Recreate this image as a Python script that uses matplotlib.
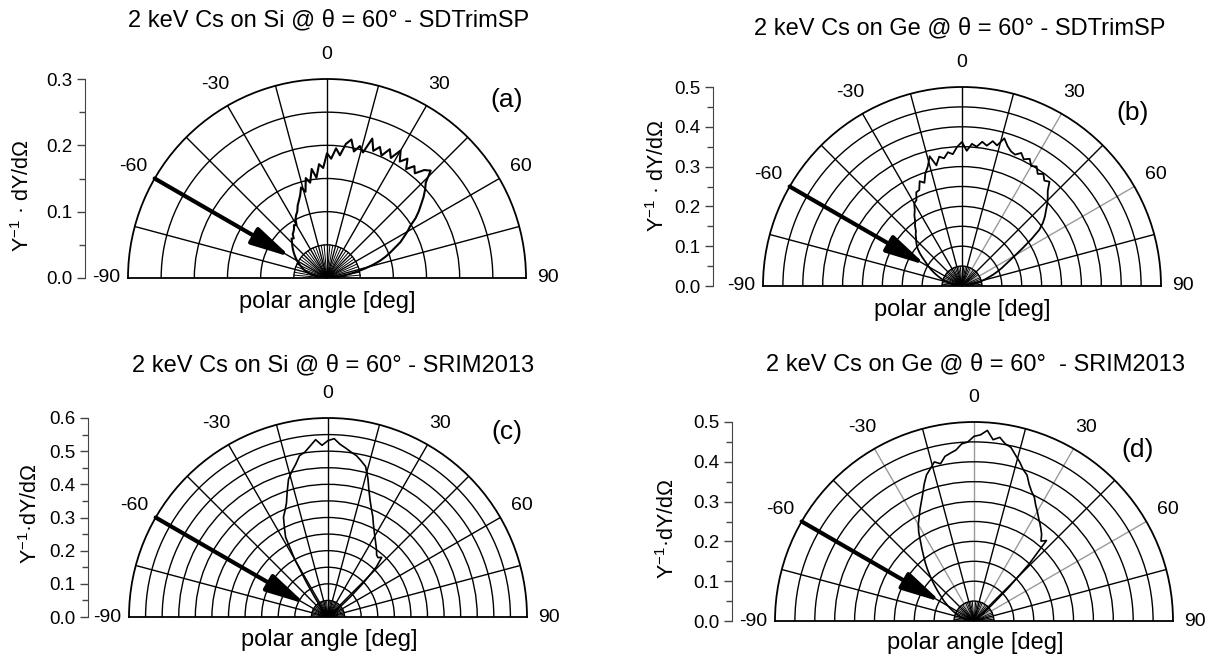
import numpy as np
import matplotlib
matplotlib.use("Agg")
import matplotlib.pyplot as plt
from matplotlib.ticker import MultipleLocator, FormatStrFormatter

plt.rcParams['font.family'] = ['Liberation Sans', 'DejaVu Sans']
plt.rcParams['mathtext.fontset'] = 'custom'
plt.rcParams['mathtext.rm'] = 'Liberation Sans'
plt.rcParams['mathtext.it'] = 'Liberation Sans:italic'

# polar angle bins [deg]
angles_deg = list(range(-90, 92, 2))

# Y^-1 dY/dOmega, one value per angle bin
r_si_sdtrim = [
    0.000, 0.003, 0.006, 0.010, 0.014, 0.018, 0.022, 0.026, 0.030, 0.034,
    0.037, 0.040, 0.043, 0.046, 0.049, 0.052, 0.055, 0.058, 0.061, 0.064,
    0.067, 0.070, 0.073, 0.076, 0.080, 0.078, 0.084, 0.086, 0.089, 0.094,
    0.092, 0.101, 0.106, 0.110, 0.118, 0.124, 0.131, 0.142, 0.134, 0.154,
    0.146, 0.166, 0.152, 0.172, 0.166, 0.188, 0.180, 0.196, 0.186, 0.204,
    0.212, 0.195, 0.205, 0.197, 0.221, 0.204, 0.213, 0.202, 0.216, 0.205,
    0.222, 0.207, 0.217, 0.203, 0.214, 0.206, 0.219, 0.225, 0.207, 0.199,
    0.190, 0.180, 0.171, 0.161, 0.148, 0.140, 0.131, 0.123, 0.112, 0.103,
    0.094, 0.084, 0.072, 0.059, 0.046, 0.034, 0.024, 0.015, 0.008, 0.003,
    0.000]

r_ge_sdtrim = [
    0.000, 0.004, 0.008, 0.013, 0.018, 0.024, 0.030, 0.036, 0.043, 0.050,
    0.057, 0.064, 0.072, 0.080, 0.088, 0.096, 0.104, 0.113, 0.124, 0.135,
    0.145, 0.153, 0.160, 0.166, 0.174, 0.180, 0.192, 0.200, 0.214, 0.224,
    0.240, 0.244, 0.262, 0.264, 0.284, 0.276, 0.298, 0.312, 0.336, 0.310,
    0.330, 0.324, 0.338, 0.332, 0.350, 0.362, 0.340, 0.358, 0.352, 0.366,
    0.358, 0.372, 0.364, 0.386, 0.370, 0.360, 0.356, 0.366, 0.354, 0.362,
    0.348, 0.354, 0.340, 0.348, 0.336, 0.342, 0.322, 0.310, 0.298, 0.284,
    0.272, 0.258, 0.240, 0.210, 0.180, 0.155, 0.135, 0.120, 0.108, 0.095,
    0.083, 0.070, 0.060, 0.050, 0.040, 0.031, 0.023, 0.015, 0.009, 0.004,
    0.000]

r_si_srim = [
    0.000, 0.001, 0.001, 0.002, 0.002, 0.003, 0.003, 0.004, 0.004, 0.005,
    0.005, 0.006, 0.006, 0.007, 0.007, 0.008, 0.008, 0.009, 0.010, 0.011,
    0.012, 0.013, 0.014, 0.015, 0.017, 0.019, 0.024, 0.040, 0.070, 0.120,
    0.200, 0.272, 0.300, 0.330, 0.346, 0.366, 0.398, 0.432, 0.452, 0.470,
    0.494, 0.502, 0.518, 0.536, 0.518, 0.532, 0.538, 0.522, 0.512, 0.502,
    0.494, 0.481, 0.468, 0.436, 0.400, 0.372, 0.350, 0.332, 0.312, 0.296,
    0.282, 0.270, 0.259, 0.249, 0.238, 0.234, 0.242, 0.210, 0.150, 0.090,
    0.045, 0.022, 0.012, 0.009, 0.008, 0.007, 0.007, 0.006, 0.006, 0.005,
    0.005, 0.004, 0.004, 0.003, 0.003, 0.003, 0.002, 0.002, 0.001, 0.001,
    0.000]

r_ge_srim = [
    0.000, 0.003, 0.006, 0.010, 0.014, 0.018, 0.022, 0.027, 0.032, 0.037,
    0.042, 0.048, 0.054, 0.061, 0.068, 0.075, 0.083, 0.092, 0.100, 0.110,
    0.121, 0.133, 0.146, 0.160, 0.175, 0.190, 0.205, 0.222, 0.240, 0.262,
    0.280, 0.294, 0.310, 0.326, 0.344, 0.366, 0.386, 0.398, 0.412, 0.404,
    0.420, 0.426, 0.432, 0.446, 0.450, 0.464, 0.468, 0.480, 0.458, 0.466,
    0.452, 0.446, 0.430, 0.416, 0.400, 0.390, 0.370, 0.356, 0.346, 0.330,
    0.318, 0.306, 0.296, 0.286, 0.276, 0.262, 0.272, 0.200, 0.120, 0.060,
    0.030, 0.015, 0.008, 0.006, 0.005, 0.005, 0.004, 0.004, 0.004, 0.003,
    0.003, 0.003, 0.002, 0.002, 0.002, 0.002, 0.001, 0.001, 0.001, 0.001,
    0.000]

titles = ["2 keV Cs on Si @ θ = 60° - SDTrimSP",
          "2 keV Cs on Ge @ θ = 60° - SDTrimSP",
          "2 keV Cs on Si @ θ = 60° - SRIM2013",
          "2 keV Cs on Ge @ θ = 60°  - SRIM2013"]
ylabels = ["Y$^{-1}$ · dY/dΩ", "Y$^{-1}$ · dY/dΩ", "Y$^{-1}$·dY/dΩ", "Y$^{-1}$·dY/dΩ"]
tags = ["(a)", "(b)", "(c)", "(d)"]
r_max = [0.3, 0.5, 0.6, 0.5]
angle_labels = [-90, -60, -30, 0, 30, 60, 90]
series = [r_si_sdtrim, r_ge_sdtrim, r_si_srim, r_ge_srim]

W, H = 1211, 656
R = 199  # radius of the half disc in pixels

# pixel layout of each panel (from top-left corner of the figure)
layout = [
    dict(cx=327, cy=278, axis_x=85, ylab=(23, 196), title=(329, 20), xlab=(327, 302),
         tag=(507, 100), arrow_end=0.21, grey=[], lw=1.5),
    dict(cx=962, cy=286, axis_x=713, ylab=(658, 176), title=(960, 28), xlab=(962, 310),
         tag=(1133, 113), arrow_end=0.21, grey=[30, 60], lw=1.3),
    dict(cx=328, cy=617, axis_x=88, ylab=(31, 514), title=(333, 365), xlab=(329, 640),
         tag=(507, 432), arrow_end=0.13, grey=[], lw=1.2),
    dict(cx=974, cy=621, axis_x=732, ylab=(668, 529), title=(975, 364), xlab=(975, 643),
         tag=(1138, 450), arrow_end=0.19, grey=[-30, 0, 30, 60], lw=1.2),
]

fig = plt.figure(figsize=(W / 100, H / 100), dpi=100)


def fx(x):
    return x / W


def fy(y):
    return 1 - y / H


for i, p in enumerate(layout):
    rm = r_max[i]
    # matplotlib pads the half-disc wedge to a square, so give it a 2R x 2R box
    ax = fig.add_axes([fx(p['cx'] - R), fy(p['cy'] + R / 2), 2 * R / W, 2 * R / H],
                      projection='polar')
    ax.set_theta_zero_location('N')
    ax.set_theta_direction(-1)
    ax.set_thetamin(-90)
    ax.set_thetamax(90)
    ax.set_rlim(0, rm)

    grid_angles = list(range(-75, 76, 15))
    ax.set_thetagrids(grid_angles, labels=[''] * len(grid_angles))
    ax.set_rgrids(np.arange(0.05, rm - 1e-6, 0.05), labels=[])
    ax.grid(True, color='black', lw=1.0)
    for a, gl in zip(grid_angles, ax.xaxis.get_gridlines()):
        if a in p['grey']:
            gl.set_color('#9a9a9a')
    ax.tick_params(length=0)
    for s in ax.spines.values():
        s.set_linewidth(1.3)

    # fine fan of radial lines inside the first ring
    for a in range(-85, 90, 5):
        if a % 15 != 0:
            ax.plot([np.deg2rad(a)] * 2, [0, 0.05], color='black', lw=0.7)

    ax.plot(np.deg2rad(angles_deg), series[i], color='black', lw=p['lw'], zorder=5)

    ax.annotate('', xy=(np.deg2rad(-60), p['arrow_end'] * rm), xytext=(np.deg2rad(-60), rm),
                arrowprops=dict(arrowstyle='-|>,head_length=1.2,head_width=0.28', mutation_scale=20,
                                lw=3, color='black', shrinkA=0, shrinkB=0),
                annotation_clip=False, zorder=6)

    for a in angle_labels:
        rr = 1.11 if abs(a) == 90 else 1.125
        ax.text(np.deg2rad(a), rr * rm, str(a), ha='center', va='center', fontsize=14, clip_on=False)

    # linear radial scale on the left
    ay = fig.add_axes([fx(p['axis_x']), fy(p['cy']), 0.0008, R / H])
    ay.set_ylim(0, rm)
    ay.patch.set_visible(False)
    for k in ['top', 'right', 'bottom']:
        ay.spines[k].set_visible(False)
    ay.spines['left'].set_color('#444444')
    ay.set_xticks([])
    ay.yaxis.set_major_locator(MultipleLocator(0.1))
    ay.yaxis.set_minor_locator(MultipleLocator(0.05))
    ay.yaxis.set_major_formatter(FormatStrFormatter('%.1f'))
    ay.tick_params(axis='y', which='major', direction='out', length=6, width=1, pad=3,
                   labelsize=13.5, color='#444444')
    ay.tick_params(axis='y', which='minor', direction='out', length=4, width=1, color='#444444')

    fig.text(fx(p['ylab'][0]), fy(p['ylab'][1]), ylabels[i], rotation=90,
             ha='center', va='center', fontsize=15.5)
    fig.text(fx(p['title'][0]), fy(p['title'][1]), titles[i], ha='center', va='center', fontsize=17)
    fig.text(fx(p['xlab'][0]), fy(p['xlab'][1]), "polar angle [deg]", ha='center', va='center', fontsize=17)
    fig.text(fx(p['tag'][0]), fy(p['tag'][1]), tags[i], ha='center', va='center', fontsize=19)

fig.savefig("out.png", dpi=100)
